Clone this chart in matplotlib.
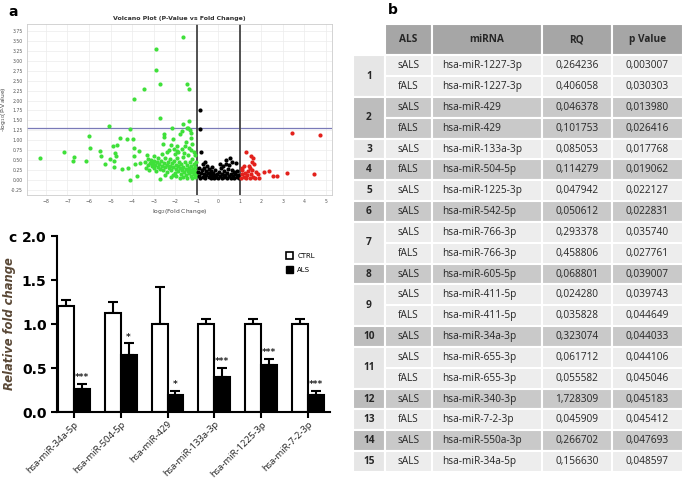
import numpy as np
import matplotlib
matplotlib.use("Agg")
import matplotlib.pyplot as plt
from matplotlib.patches import Rectangle, Patch

# ---------------- data: volcano plot ----------------
green_x = [-8.26, -7.15, -6.69, -6.75, -6.13, -6.0, -5.94, -5.48, -5.43, -5.25, -5.09, -5.02, -4.89, -4.79, -4.74,
           -4.83, -4.68, -4.86, -4.55, -4.48, -4.24, -4.21, -4.09, -4.09, -3.96, -3.93, -3.89, -3.93, -3.85, -3.78,
           -3.70, -3.63, -3.43, -3.32, -3.24, -3.16, -3.09, -2.98, -2.98, -2.88, -2.88, -2.70, -2.70, -2.70, -2.54,
           -2.50, -2.16, -2.08, -1.93, -1.77, -1.69, -1.62, -1.62, -1.46, -1.38, -1.46, -1.34, -1.40, -1.30, -1.28,
           -1.25, -1.22, -1.50, -1.55, -1.70, -1.85, -2.00, -2.20, -2.30, -2.40, -2.55, -2.60, -2.80, -2.10, -1.80,
           -3.40, -3.35, -3.28, -3.20, -3.12, -3.05, -3.00, -2.95, -2.90, -2.85, -2.80, -2.75, -2.72, -2.65, -2.62,
           -2.58, -2.52, -2.48, -2.45, -2.40, -2.38, -2.33, -2.30, -2.25, -2.22, -2.18, -2.15, -2.10, -2.05, -2.02,
           -1.98, -1.95, -1.92, -1.88, -1.85, -1.82, -1.78, -1.75, -1.72, -1.68, -1.65, -1.62, -1.58, -1.55, -1.52,
           -1.48, -1.45, -1.42, -1.40, -1.38, -1.35, -1.32, -1.30, -1.28, -1.25, -1.22, -1.20, -1.18, -1.15, -1.12,
           -1.10, -1.08, -1.06, -1.04, -1.02, -1.15, -1.10, -1.05, -1.25, -1.35, -1.60, -1.90, -2.05, -2.45, -2.20,
           -1.95, -1.65, -1.45, -1.20]
green_y = [0.56, 0.71, 0.57, 0.47, 0.48, 1.11, 0.80, 0.74, 0.60, 0.40, 1.36, 0.52, 0.85, 0.68, 0.60,
           0.47, 0.88, 0.32, 1.06, 0.28, 1.02, 0.30, 1.28, 0.00, 1.02, 0.81, 2.04, 0.60, 0.39, 0.11,
           0.73, 0.43, 2.29, 0.64, 0.52, 0.43, 0.35, 0.60, 0.47, 3.30, 2.77, 2.42, 1.55, 0.02, 1.15,
           1.08, 1.32, 1.02, 0.85, 1.15, 1.23, 3.59, 1.40, 1.32, 1.49, 2.43, 2.29, 1.30, 1.25, 1.18,
           1.05, 0.90, 0.95, 0.85, 0.78, 0.70, 0.65, 0.88, 0.75, 0.70, 0.90, 0.65, 0.55, 0.12, 0.05,
           0.45, 0.30, 0.38, 0.25, 0.50, 0.42, 0.30, 0.38, 0.22, 0.45, 0.33, 0.40, 0.28, 0.48, 0.35,
           0.25, 0.42, 0.32, 0.55, 0.38, 0.20, 0.45, 0.30, 0.52, 0.36, 0.25, 0.42, 0.33, 0.48, 0.18,
           0.38, 0.28, 0.55, 0.35, 0.22, 0.45, 0.30, 0.15, 0.40, 0.25, 0.58, 0.33, 0.20, 0.45, 0.28,
           0.12, 0.38, 0.22, 0.62, 0.30, 0.18, 0.45, 0.25, 0.10, 0.35, 0.20, 0.52, 0.28, 0.15, 0.40,
           0.22, 0.08, 0.32, 0.18, 0.12, 0.70, 0.62, 0.45, 0.75, 0.80, 0.68, 0.72, 0.78, 0.12, 0.08,
           0.10, 0.08, 0.05, 0.05]
black_x = [-0.84, -0.84, -0.81, -0.95, -0.90, -0.88, -0.85, -0.80, -0.75, -0.72, -0.70, -0.68, -0.65, -0.60, -0.58,
           -0.55, -0.52, -0.50, -0.45, -0.42, -0.40, -0.35, -0.32, -0.30, -0.25, -0.20, -0.18, -0.15, -0.10, -0.05,
           0.00, 0.05, 0.08, 0.12, 0.15, 0.18, 0.22, 0.25, 0.28, 0.32, 0.35, 0.38, 0.40, 0.42, 0.45,
           0.48, 0.52, 0.55, 0.58, 0.60, 0.62, 0.65, 0.68, 0.72, 0.75, 0.78, 0.82, 0.85, 0.88, 0.92,
           0.95, -0.62, -0.28, 0.10]
black_y = [1.77, 1.28, 0.70, 0.20, 0.10, 0.30, 0.05, 0.18, 0.25, 0.08, 0.40, 0.15, 0.30, 0.05, 0.22,
           0.12, 0.35, 0.18, 0.08, 0.28, 0.15, 0.05, 0.22, 0.10, 0.18, 0.05, 0.12, 0.25, 0.08, 0.15,
           0.05, 0.20, 0.10, 0.30, 0.05, 0.15, 0.35, 0.08, 0.22, 0.12, 0.40, 0.50, 0.05, 0.18, 0.28,
           0.10, 0.38, 0.56, 0.15, 0.05, 0.25, 0.45, 0.10, 0.20, 0.05, 0.15, 0.42, 0.08, 0.22, 0.12,
           0.05, 0.45, 0.32, 0.40]
red_x = [1.31, 1.53, 1.62, 1.42, 1.47, 1.58, 1.84, 2.12, 2.36, 2.52, 2.72, 3.19, 3.41, 4.45, 4.72,
         1.05, 1.10, 1.12, 1.18, 1.22, 1.28, 1.35, 1.38, 1.45, 1.52, 1.60, 1.70, 1.75, 1.65, 1.55,
         1.20, 1.08, 1.90]
red_y = [0.70, 0.60, 0.56, 0.36, 0.30, 0.26, 0.16, 0.19, 0.22, 0.09, 0.09, 0.18, 1.19, 0.16, 1.13,
         0.05, 0.15, 0.25, 0.08, 0.18, 0.05, 0.12, 0.22, 0.05, 0.15, 0.08, 0.05, 0.20, 0.40, 0.45,
         0.35, 0.30, 0.05]
p_threshold = 0.05
fc_threshold = 1.0

# ---------------- data: table ----------------
group_ids = ["1", "2", "3", "4", "5", "6", "7", "8", "9", "10", "11", "12", "13", "14", "15"]
group_sizes = [2, 2, 1, 1, 1, 1, 2, 1, 2, 1, 2, 1, 1, 1, 1]
col_headers = ["ALS", "miRNA", "RQ", "p Value"]
als_type = ["sALS", "fALS", "sALS", "fALS", "sALS", "fALS", "sALS", "sALS", "sALS", "fALS",
            "sALS", "sALS", "fALS", "sALS", "sALS", "fALS", "sALS", "fALS", "sALS", "sALS"]
mirna = ["hsa-miR-1227-3p", "hsa-miR-1227-3p", "hsa-miR-429", "hsa-miR-429", "hsa-miR-133a-3p",
         "hsa-miR-504-5p", "hsa-miR-1225-3p", "hsa-miR-542-5p", "hsa-miR-766-3p", "hsa-miR-766-3p",
         "hsa-miR-605-5p", "hsa-miR-411-5p", "hsa-miR-411-5p", "hsa-miR-34a-3p", "hsa-miR-655-3p",
         "hsa-miR-655-3p", "hsa-miR-340-3p", "hsa-miR-7-2-3p", "hsa-miR-550a-3p", "hsa-miR-34a-5p"]
rq = ["0,264236", "0,406058", "0,046378", "0,101753", "0,085053", "0,114279", "0,047942", "0,050612",
      "0,293378", "0,458806", "0,068801", "0,024280", "0,035828", "0,323074", "0,061712", "0,055582",
      "1,728309", "0,045909", "0,266702", "0,156630"]
pval = ["0,003007", "0,030303", "0,013980", "0,026416", "0,017768", "0,019062", "0,022127", "0,022831",
        "0,035740", "0,027761", "0,039007", "0,039743", "0,044649", "0,044033", "0,044106", "0,045046",
        "0,045183", "0,045412", "0,047693", "0,048597"]

# ---------------- data: bar chart ----------------
mirnas_c = ["hsa-miR-34a-5p", "hsa-miR-504-5p", "hsa-miR-429", "hsa-miR-133a-3p", "hsa-miR-1225-3p", "hsa-miR-7-2-3p"]
ctrl_vals = [1.21, 1.13, 1.00, 1.00, 1.00, 1.00]
ctrl_err = [0.06, 0.12, 0.42, 0.06, 0.06, 0.06]
als_vals = [0.26, 0.65, 0.19, 0.40, 0.53, 0.19]
als_err = [0.06, 0.13, 0.05, 0.10, 0.07, 0.05]
signif = ["***", "*", "*", "***", "***", "***"]

# ---------------- layout ----------------
W, H = 685, 479
fig = plt.figure(figsize=(W / 100, H / 100), dpi=100)
fig.patch.set_facecolor("white")


def rect(l, t, r, b):
    return [l / W, 1 - b / H, (r - l) / W, (b - t) / H]


# ---- panel a: volcano ----
axv = fig.add_axes(rect(27, 24, 332, 195))
axv.scatter(green_x, green_y, s=9, c="#3fe03a", linewidths=0, zorder=3)
axv.scatter(black_x, black_y, s=9, c="black", linewidths=0, zorder=3)
axv.scatter(red_x, red_y, s=9, c="#e3211c", linewidths=0, zorder=3)
axv.axhline(-np.log10(p_threshold), color="#7a7ab8", lw=0.9, zorder=2)
axv.axvline(-fc_threshold, color="#444444", lw=1.3, zorder=2)
axv.axvline(fc_threshold, color="#444444", lw=1.3, zorder=2)
axv.set_xlim(-8.88, 5.28)
axv.set_ylim(-0.38, 3.93)
axv.set_xticks(np.arange(-8, 6))
yt = np.arange(-0.25, 3.76, 0.25)
axv.set_yticks(yt)
axv.set_yticklabels([f"{v:.2f}" for v in yt])
axv.grid(True, color="#ececec", lw=0.5, zorder=0)
axv.tick_params(labelsize=3.3, colors="#555555", length=0, pad=3)
for s in axv.spines.values():
    s.set_color("#cccccc")
    s.set_linewidth(0.6)
axv.set_xlabel("log$_2$(Fold Change)", fontsize=4.3, color="#444444", labelpad=2)
axv.set_ylabel("-log$_{10}$(P-Value)", fontsize=4.3, color="#444444", labelpad=2)
axv.set_title("Volcano Plot (P-Value vs Fold Change)", fontsize=4.5, fontweight="bold", color="#333333", pad=3)

# ---- panel b: table ----
col_edges = [353, 385, 432, 542, 612, 683]
axt = fig.add_axes(rect(col_edges[0], 24, col_edges[-1], 472))
axt.set_xlim(col_edges[0], col_edges[-1])
n_rows = len(mirna)
header_h = 1.5
axt.set_ylim(n_rows, -header_h)
axt.axis("off")
tfont = dict(family="Open Sans", fontsize=7.3, color="#262626")
# header
for c in range(1, 5):
    axt.add_patch(Rectangle((col_edges[c], -header_h), col_edges[c + 1] - col_edges[c], header_h,
                            facecolor="#a6a6a6", edgecolor="white", lw=1.5))
    axt.text((col_edges[c] + col_edges[c + 1]) / 2, -header_h / 2, col_headers[c - 1],
             ha="center", va="center", fontweight="bold", **tfont)
row = 0
for g, (gid, size) in enumerate(zip(group_ids, group_sizes)):
    dark = g % 2 == 1
    num_col = "#bdbdbd" if dark else "#e6e6e6"
    data_col = "#c9c9c9" if dark else "#ededed"
    axt.add_patch(Rectangle((col_edges[0], row), col_edges[1] - col_edges[0], size,
                            facecolor=num_col, edgecolor="white", lw=1.5))
    axt.text((col_edges[0] + col_edges[1]) / 2, row + size / 2, gid, ha="center", va="center",
             fontweight="bold", **tfont)
    for r in range(row, row + size):
        vals = [als_type[r], mirna[r], rq[r], pval[r]]
        for c in range(1, 5):
            axt.add_patch(Rectangle((col_edges[c], r), col_edges[c + 1] - col_edges[c], 1,
                                    facecolor=data_col, edgecolor="white", lw=1.5))
            if c == 2:
                axt.text(col_edges[c] + 10, r + 0.5, vals[c - 1], ha="left", va="center", **tfont)
            else:
                axt.text((col_edges[c] + col_edges[c + 1]) / 2, r + 0.5, vals[c - 1],
                         ha="center", va="center", **tfont)
    row += size

# ---- panel c: bars ----
axc = fig.add_axes(rect(57, 236, 330, 412))
x = np.arange(len(mirnas_c))
w = 0.34
axc.bar(x - w / 2, ctrl_vals, w, facecolor="white", edgecolor="black", lw=1.5, zorder=2)
axc.bar(x + w / 2, als_vals, w, facecolor="black", edgecolor="black", lw=1.5, zorder=2)
zeros = np.zeros(len(x))
axc.errorbar(x - w / 2, ctrl_vals, yerr=[zeros, ctrl_err], fmt="none", ecolor="black",
             elinewidth=1.5, capsize=3.5, capthick=1.5, zorder=1)
axc.errorbar(x + w / 2, als_vals, yerr=[zeros, als_err], fmt="none", ecolor="black",
             elinewidth=1.5, capsize=3.5, capthick=1.5, zorder=3)
for xi, v, e, s in zip(x, als_vals, als_err, signif):
    axc.text(xi + w / 2, v + e + 0.02, s, ha="center", va="bottom", fontsize=6.5, fontweight="bold",
             color="#222222")
axc.set_xlim(-0.36, 5.47)
axc.set_ylim(0, 2.0)
axc.set_yticks([0, 0.5, 1.0, 1.5, 2.0])
axc.set_yticklabels(["0.0", "0.5", "1.0", "1.5", "2.0"], fontsize=10, fontweight="bold")
axc.set_xticks(x)
axc.set_xticklabels(mirnas_c, rotation=45, ha="right", rotation_mode="anchor",
                    fontsize=6.8, family="Open Sans", color="#222222")
axc.spines["top"].set_visible(False)
axc.spines["right"].set_visible(False)
axc.spines["left"].set_linewidth(1.5)
axc.spines["bottom"].set_linewidth(1.5)
axc.tick_params(width=1.5, length=4)
axc.tick_params(axis="x", pad=1.5)
axc.set_ylabel("Relative fold change", fontsize=8.3, style="italic", fontweight="bold",
               color="#5a4836", labelpad=4)
leg = axc.legend(handles=[Patch(facecolor="white", edgecolor="black", lw=1.2, label="CTRL"),
                          Patch(facecolor="black", edgecolor="black", label="ALS")],
                 loc="upper left", bbox_to_anchor=((280 - 57) / (330 - 57), 1.0 - (246 - 236) / 176),
                 frameon=False, fontsize=5, handlelength=1.0, handleheight=1.2, labelspacing=0.9,
                 handletextpad=0.6)

# panel letters
fig.text(8 / W, 1 - 12 / H, "a", fontsize=10, fontweight="bold", va="center")
fig.text(388 / W, 1 - 10 / H, "b", fontsize=10, fontweight="bold", va="center")
fig.text(8 / W, 1 - 238 / H, "c", fontsize=10, fontweight="bold", va="center")

fig.savefig("out.png", dpi=100)
